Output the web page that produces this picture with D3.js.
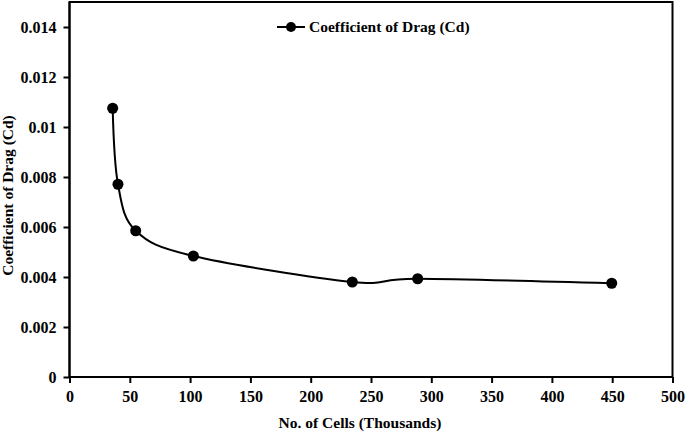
<!DOCTYPE html>
<html><head><meta charset="utf-8">
<script src="https://cdn.jsdelivr.net/npm/d3@7"></script>
<style>body{margin:0;background:#fff}svg{display:block}
svg text{font-family:"Liberation Serif","Times New Roman","DejaVu Serif",serif !important;font-weight:bold;fill:#000}</style>
</head><body>
<svg id="c" width="685" height="433"></svg>
<script>
const cells = [35.8, 40.2, 54.9, 102.7, 234.5, 288.7, 449.6];
const cd = [0.01075, 0.00771, 0.00585, 0.00484, 0.0038, 0.00393, 0.00375];
const xTicks = [0, 50, 100, 150, 200, 250, 300, 350, 400, 450, 500];
const yTicks = [0, 0.002, 0.004, 0.006, 0.008, 0.01, 0.012, 0.014];
const seriesName = "Coefficient of Drag (Cd)";
const xTitle = "No. of Cells (Thousands)";
const yTitle = "Coefficient of Drag (Cd)";

const svg = d3.select("#c");
const L = 69.5, R = 672.5, T = 2, B = 377;
const x = d3.scaleLinear().domain([0, 500]).range([L, R]);
const y = d3.scaleLinear().domain([0, 0.015]).range([B, T]);

svg.append("rect").attr("x", L).attr("y", T).attr("width", R - L).attr("height", B - T)
  .attr("fill", "none").attr("stroke", "#000").attr("stroke-width", 2);

const xa = svg.append("g").attr("transform", `translate(0,${B})`)
  .call(d3.axisBottom(x).tickValues(xTicks).tickSize(6).tickPadding(8).tickFormat(d3.format("d")));
const ya = svg.append("g").attr("transform", `translate(${L},0)`)
  .call(d3.axisLeft(y).tickValues(yTicks).tickSize(6).tickPadding(7).tickFormat(d => d === 0 ? "0" : String(+d.toFixed(3))));
[xa, ya].forEach(a => {
  a.attr("font-family", null);
  a.select(".domain").attr("stroke", "#000").attr("stroke-width", 2);
  a.selectAll(".tick line").attr("stroke", "#000").attr("stroke-width", 2);
  a.selectAll("text").attr("font-size", 16);
});
xa.select(".domain").attr("d", `M${L},0H${R}`);
ya.select(".domain").attr("d", `M0,${B}V${T}`);

const pts = cells.map((c, i) => [x(c), y(cd[i])]);
svg.append("path").attr("d", d3.line().curve(d3.curveCatmullRom.alpha(0))(pts))
  .attr("fill", "none").attr("stroke", "#000").attr("stroke-width", 2);
svg.selectAll("circle.pt").data(pts).join("circle").attr("class", "pt")
  .attr("cx", d => d[0]).attr("cy", d => d[1]).attr("r", 5.5).attr("fill", "#000");

svg.append("line").attr("x1", 277).attr("x2", 305).attr("y1", 27).attr("y2", 27)
  .attr("stroke", "#000").attr("stroke-width", 2);
svg.append("circle").attr("cx", 291).attr("cy", 27).attr("r", 5).attr("fill", "#000");
svg.append("text").attr("x", 309).attr("y", 32).text(seriesName).attr("font-size", 15.5);

svg.append("text").attr("x", 360).attr("y", 428).attr("text-anchor", "middle").text(xTitle).attr("font-size", 15.5);
svg.append("text").attr("transform", `translate(13,${(T + B) / 2 + 6}) rotate(-90)`).attr("text-anchor", "middle").text(yTitle).attr("font-size", 15.5);
</script>
</body></html>
